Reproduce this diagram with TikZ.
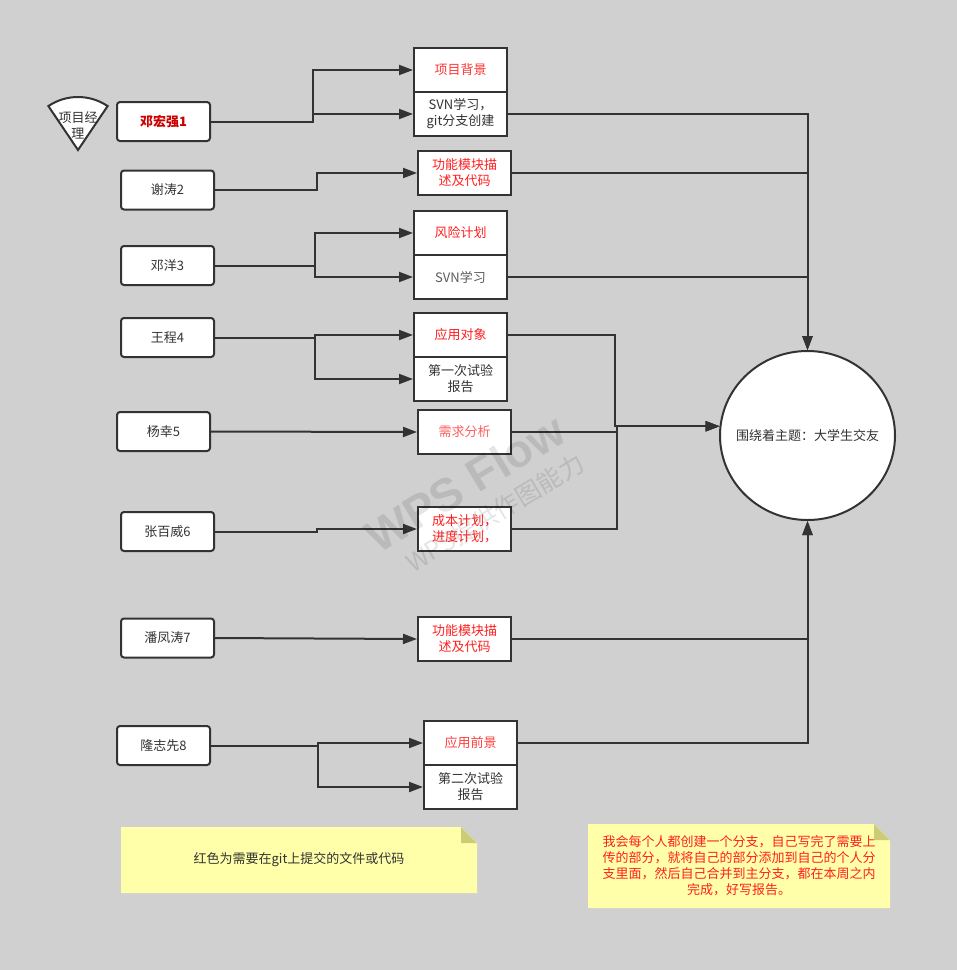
\documentclass[tikz,border=0pt]{standalone}
\usepackage{fontspec}
\setmainfont{Noto Sans CJK SC}
\newfontfamily\wmfont{Liberation Sans}
\usetikzlibrary{arrows.meta,shapes.geometric}

\definecolor{bg}{HTML}{D0D0D0}
\definecolor{edge}{HTML}{333333}
\definecolor{hot}{HTML}{FF1F1F}
\definecolor{pale}{HTML}{FF6060}
\definecolor{boss}{HTML}{CC0000}
\definecolor{notefill}{HTML}{FFFFAA}
\definecolor{foldfill}{HTML}{CCCC77}

\begin{document}
\begin{tikzpicture}[x=1pt,y=-1pt,
    txt/.style={font=\fontsize{13}{16}\selectfont},
    person/.style={txt,draw=edge,line width=2pt,rounded corners=3pt,fill=white,
      minimum width=93pt,minimum height=39pt,inner sep=0pt,text=edge},
    task/.style={txt,draw=edge,line width=2pt,fill=white,minimum width=93pt,
      minimum height=44pt,inner sep=0pt,align=center,text=hot},
    link/.style={draw=edge,line width=2pt,-{Triangle[length=14pt,width=10pt]}},
    note/.style={txt,align=center}]

    \fill[bg] (0,0) rectangle (957,970);

    % 项目经理
    \draw[edge,line width=2pt,fill=white] (78,150) -- ++(-124:53)
      arc[start angle=-124,end angle=-56,radius=53] -- cycle;
    \node[txt,align=center,text=edge,inner sep=0pt] (pm) at (78,125) {项目经\\理};

    % 组员
    \node[person,text=boss,font=\fontsize{13}{16}\selectfont\bfseries] (p1) at (163.5,121.5) {邓宏强1};
    \foreach \n/\x/\y/\t in {2/167.5/190/谢涛2, 3/167.5/265.5/邓洋3, 4/167.5/337.5/王程4,
      5/163.5/431.5/杨幸5, 6/167.5/531.5/张百威6, 7/167.5/638/潘凤涛7, 8/163.5/745.5/隆志先8}
    \node[person] (p\n) at (\x,\y) {\t};

    % 任务
    \node[task,text=hot!90] (a1) at (460.5,70) {项目背景};
    \node[task,text=edge] (a2) at (460.5,114) {SVN学习，\\git分支创建};
    \node[task] (b) at (464.5,173) {功能模块描\\述及代码};
    \node[task] (c1) at (460.5,233) {风险计划};
    \node[task,text=edge!80] (c2) at (460.5,277) {SVN学习};
    \node[task] (d1) at (460.5,335) {应用对象};
    \node[task,text=edge] (d2) at (460.5,379) {第一次试验\\报告};
    \node[task,text=pale] (e) at (464.5,432) {需求分析};
    \node[task] (f) at (464.5,529) {成本计划，\\进度计划，};
    \node[task] (g) at (464.5,639) {功能模块描\\述及代码};
    \node[task,text=hot!85] (h1) at (470.5,743) {应用前景};
    \node[task,text=edge] (h2) at (470.5,787) {第二次试验\\报告};

    \node[ellipse,draw=edge,line width=2pt,fill=white,minimum width=175pt,
      minimum height=169pt,inner sep=0pt,txt,text=edge] (topic) at (807.5,435.5)
      {\makebox[0pt]{围绕着主题：大学生交友}};

    % 组员 -> 任务
    \draw[link] (p1.east) -- ++(102,0) |- (a1.west);
    \draw[link] (p1.east) -- ++(102,0) |- (a2.west);
    \draw[link] (p2.east) -- ++(102,0) |- (b.west);
    \draw[link] (p3.east) -- ++(100,0) |- (c1.west);
    \draw[link] (p3.east) -- ++(100,0) |- (c2.west);
    \draw[link] (p4.east) -- ++(100,0) |- (d1.west);
    \draw[link] (p4.east) -- ++(100,0) |- (d2.west);
    \draw[link] (p5.east) -- (e.west);
    \draw[link] (p6.east) -- ++(102,0) |- (f.west);
    \draw[link] (p7.east) -- (g.west);
    \draw[link] (p8.east) -- ++(107,0) |- (h1.west);
    \draw[link] (p8.east) -- ++(107,0) |- (h2.west);

    % 任务 -> 主题
    \draw[link] (a2.east) -| (topic.north);
    \draw[link] (b.east) -| (topic.north);
    \draw[link] (c2.east) -| (topic.north);
    \draw[link] (d1.east) -- ++(107,0) |- (topic.174);
    \draw[link] (e.east) -- ++(105,0) |- (topic.174);
    \draw[link] (f.east) -- ++(105,0) |- (topic.174);
    \draw[link] (g.east) -| (topic.south);
    \draw[link] (h1.east) -| (topic.south);

    % 便签
    \fill[notefill] (121,827) -- (461,827) -- (477,843) -- (477,893) -- (121,893) -- cycle;
    \fill[foldfill] (461,827) -- (477,843) -- (461,843) -- cycle;
    \node[note,text=edge] (n1) at (299,860) {红色为需要在git上提交的文件或代码};

    \fill[notefill] (588,824) -- (874,824) -- (890,840) -- (890,908) -- (588,908) -- cycle;
    \fill[foldfill] (874,824) -- (890,840) -- (874,840) -- cycle;
    \node[note,text=hot] (n2) at (739,866) {我会每个人都创建一个分支，自己写完了需要上\\传的部分，就将自己的部分添加到自己的个人分\\支里面，然后自己合并到主分支，都在本周之内\\完成，好写报告。};

    % 水印
    \node[rotate=31,text=black,opacity=0.1,font=\wmfont\bfseries\fontsize{46}{46}\selectfont] (wm) at (465,483) {WPS Flow};
    \node[rotate=31,text=black,opacity=0.1,font=\fontsize{25}{25}\selectfont] (wm2) at (495,513) {WPS提供作图能力};
\end{tikzpicture}
\end{document}
